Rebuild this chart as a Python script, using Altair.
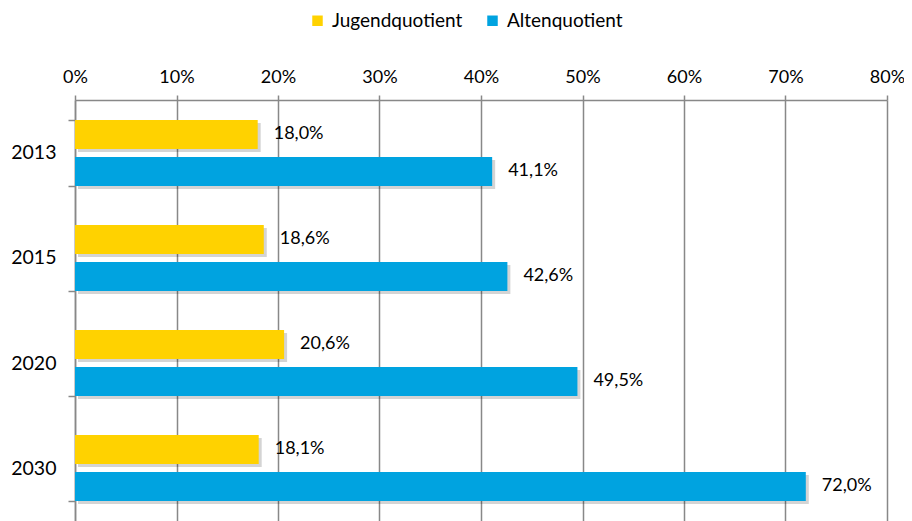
import altair as alt
import pandas as pd

years = ["2013", "2015", "2020", "2030"]
series = ["Jugendquotient", "Altenquotient"]
jugend = [18.0, 18.6, 20.6, 18.1]
alten = [41.1, 42.6, 49.5, 72.0]
x_ticks = [0, 10, 20, 30, 40, 50, 60, 70, 80]
colors = ["#FFD200", "#00A3E0"]

rows = []
for i, y in enumerate(years):
    for s, vals in zip(series, [jugend, alten]):
        v = vals[i]
        rows.append({"year": y, "series": s, "value": v / 100,
                     "label": f"{v:.1f}".replace(".", ",") + "%"})
df = pd.DataFrame(rows)

FONT = "Lato"

y_enc = alt.Y("year:N", sort=years,
              scale=alt.Scale(paddingInner=0.371, paddingOuter=0.19),
              axis=alt.Axis(title=None, labelFontSize=19.5, labelColor="black",
                            labelFont=FONT, labelPadding=12, tickBand="extent",
                            tickSize=7, tickColor="#888888", tickWidth=1.5,
                            domainColor="#888888", domainWidth=1.5))
x_enc = alt.X("value:Q",
              scale=alt.Scale(domain=[0, 0.8], nice=False),
              axis=alt.Axis(orient="top", title=None, format=".0%",
                            values=[t / 100 for t in x_ticks], labelFlush=False,
                            labelFontSize=18, labelColor="black", labelFont=FONT,
                            labelPadding=9, tickSize=5, tickColor="#888888",
                            tickWidth=1.5, domainColor="#888888", domainWidth=1.5,
                            grid=True, gridColor="#888888", gridWidth=1.5))

base = alt.Chart(df)

shadow = base.mark_bar(color="black", opacity=0.17, xOffset=3).encode(
    x=x_enc, y=y_enc,
    yOffset=alt.YOffset("series:N", sort=series,
                        scale=alt.Scale(paddingInner=0.216, paddingOuter=0,
                                        range=[3, 69])))

yoff = alt.YOffset("series:N", sort=series,
                   scale=alt.Scale(paddingInner=0.216, paddingOuter=0,
                                   range=[0, 66]))

bars = base.mark_bar().encode(
    x=x_enc, y=y_enc, yOffset=yoff,
    color=alt.Color("series:N", sort=series,
                    scale=alt.Scale(domain=series, range=colors),
                    legend=alt.Legend(title=None, orient="none", direction="horizontal",
                                      legendX=233, legendY=-89, symbolType="square",
                                      symbolSize=110, symbolStrokeWidth=0,
                                      labelFontSize=19, labelFont=FONT,
                                      labelColor="black", columnPadding=20,
                                      labelOffset=5)))

text = base.mark_text(align="left", baseline="middle", dx=16, fontSize=18,
                      font=FONT, color="black").encode(
    x=alt.X("value:Q"), y=alt.Y("year:N", sort=years), yOffset=yoff, text="label:N")

main = alt.layer(bars, text)

chart = alt.layer(shadow, main).resolve_scale(yOffset="independent").properties(
    width=812, height=421,
    autosize=alt.AutoSizeParams(type="none"),
    padding={"left": 67, "top": 92, "right": 17, "bottom": 0},
).configure_view(stroke=None).configure_axis(labelFont=FONT)

chart.save("out.html", embed_options={"renderer": "svg", "actions": False})
